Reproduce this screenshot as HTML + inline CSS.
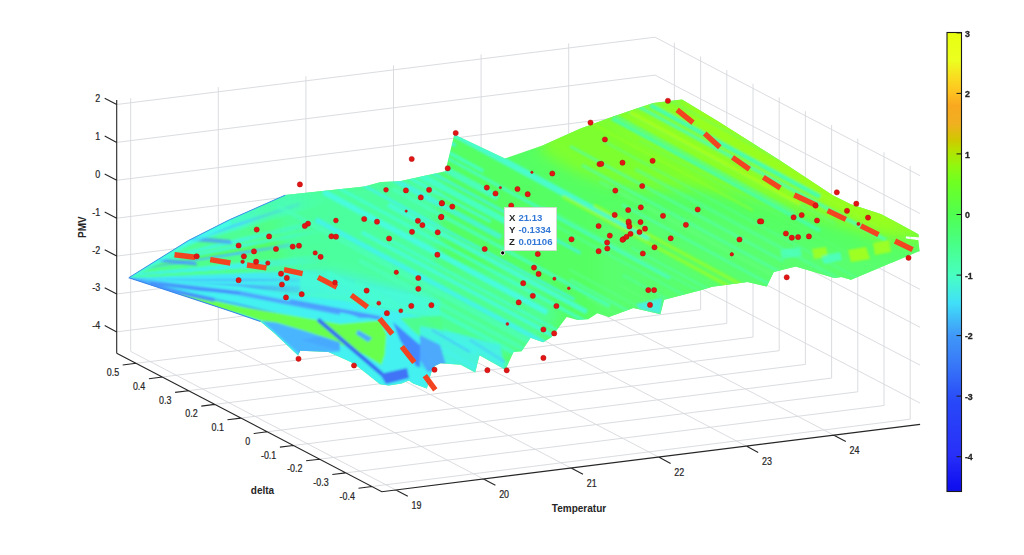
<!DOCTYPE html>
<html><head><meta charset="utf-8"><style>
html,body{margin:0;padding:0;background:#fff;width:1024px;height:555px;overflow:hidden}
svg{display:block;font-family:"Liberation Sans",sans-serif}
</style></head><body>
<svg width="1024" height="555" viewBox="0 0 1024 555">
<rect width="1024" height="555" fill="#fff"/>
<path d="M130.7,351.4 L130.7,98.2 M218.3,340.5 L218.3,87.2 M305.9,329.5 L305.9,76.3 M393.5,318.6 L393.5,65.3 M481.1,307.6 L481.1,54.4 M568.7,296.6 L568.7,43.4 M116.7,331.9 L655,264.6 M116.7,294 L655,226.7 M116.7,256.1 L655,188.8 M116.7,218.2 L655,150.9 M116.7,180.3 L655,113 M116.7,142.4 L655,75.1 M116.7,104.5 L655,37.2 M910.2,419.2 L910.2,165.9 M884,405.5 L884,152.3 M857.8,391.8 L857.8,138.6 M831.6,378.1 L831.6,124.9 M805.4,364.4 L805.4,111.2 M779.2,350.7 L779.2,97.5 M753,337.1 L753,83.8 M726.8,323.4 L726.8,70.1 M700.6,309.7 L700.6,56.4 M674.4,296 L674.4,42.7 M920.1,403.1 L655,264.6 M920.1,365.2 L655,226.7 M920.1,327.3 L655,188.8 M920.1,289.4 L655,150.9 M920.1,251.5 L655,113 M920.1,213.6 L655,75.1 M920.1,175.7 L655,37.2 M395.9,490 L130.7,351.4 M483.5,479 L218.3,340.5 M571.1,468.1 L305.9,329.5 M658.7,457.1 L393.5,318.6 M746.3,446.1 L481.1,307.6 M833.9,435.2 L568.7,296.6 M371.9,486.5 L910.2,419.2 M345.7,472.9 L884,405.5 M319.5,459.2 L857.8,391.8 M293.3,445.5 L831.6,378.1 M267.1,431.8 L805.4,364.4 M240.9,418.1 L779.2,350.7 M214.7,404.4 L753,337.1 M188.5,390.7 L726.8,323.4 M162.3,377 L700.6,309.7 M136.1,363.3 L674.4,296" stroke="#d6d8dc" stroke-width="0.9" fill="none"/>
<path d="M116.7,100 L116.7,353.2 M116.7,353.2 L381.8,491.7 L920.1,424.4 M116.7,331.9 L104.7,325.6 M116.7,294 L104.7,287.7 M116.7,256.1 L104.7,249.8 M116.7,218.2 L104.7,211.9 M116.7,180.3 L104.7,174 M116.7,142.4 L104.7,136.1 M116.7,104.5 L104.7,98.2 M371.9,486.5 L358.5,488.2 M345.7,472.9 L332.3,474.5 M319.5,459.2 L306.1,460.8 M293.3,445.5 L279.9,447.1 M267.1,431.8 L253.7,433.5 M240.9,418.1 L227.5,419.8 M214.7,404.4 L201.3,406.1 M188.5,390.7 L175.1,392.4 M162.3,377 L148.9,378.7 M136.1,363.3 L122.7,365 M395.9,490 L407.8,496.2 M483.5,479 L495.4,485.3 M571.1,468.1 L583,474.3 M658.7,457.1 L670.6,463.4 M746.3,446.1 L758.2,452.4 M833.9,435.2 L845.8,441.4" stroke="#262626" stroke-width="1.1" fill="none"/>
<g font-size="9.6" fill="#262626" stroke="#262626" stroke-width="0.2"><text transform="translate(100.3,329.3) scale(0.93,1.1)" text-anchor="end">-4</text><text transform="translate(100.3,291.4) scale(0.93,1.1)" text-anchor="end">-3</text><text transform="translate(100.3,253.5) scale(0.93,1.1)" text-anchor="end">-2</text><text transform="translate(100.3,215.6) scale(0.93,1.1)" text-anchor="end">-1</text><text transform="translate(100.3,177.7) scale(0.93,1.1)" text-anchor="end">0</text><text transform="translate(100.3,139.8) scale(0.93,1.1)" text-anchor="end">1</text><text transform="translate(100.3,101.9) scale(0.93,1.1)" text-anchor="end">2</text><text transform="translate(354.9,499.5) scale(0.93,1.1)" text-anchor="end">-0.4</text><text transform="translate(328.7,485.9) scale(0.93,1.1)" text-anchor="end">-0.3</text><text transform="translate(302.5,472.2) scale(0.93,1.1)" text-anchor="end">-0.2</text><text transform="translate(276.3,458.5) scale(0.93,1.1)" text-anchor="end">-0.1</text><text transform="translate(250.1,444.8) scale(0.93,1.1)" text-anchor="end">0</text><text transform="translate(223.9,431.1) scale(0.93,1.1)" text-anchor="end">0.1</text><text transform="translate(197.7,417.4) scale(0.93,1.1)" text-anchor="end">0.2</text><text transform="translate(171.5,403.7) scale(0.93,1.1)" text-anchor="end">0.3</text><text transform="translate(145.3,390) scale(0.93,1.1)" text-anchor="end">0.4</text><text transform="translate(119.1,376.3) scale(0.93,1.1)" text-anchor="end">0.5</text><text transform="translate(416.5,508.8) scale(0.93,1.1)" text-anchor="middle">19</text><text transform="translate(504.1,497.8) scale(0.93,1.1)" text-anchor="middle">20</text><text transform="translate(591.7,486.9) scale(0.93,1.1)" text-anchor="middle">21</text><text transform="translate(679.3,475.9) scale(0.93,1.1)" text-anchor="middle">22</text><text transform="translate(766.9,464.9) scale(0.93,1.1)" text-anchor="middle">23</text><text transform="translate(854.5,454) scale(0.93,1.1)" text-anchor="middle">24</text></g>
<g font-size="10" font-weight="bold" fill="#262626"><text x="262.5" y="493.7" text-anchor="middle">delta</text><text x="579" y="511.7" text-anchor="middle">Temperatur</text><text transform="translate(86,227.2) rotate(-90)" text-anchor="middle">PMV</text></g>
<defs><clipPath id="sc"><polygon points="128.8,277.7 188.4,240.5 229.4,219.8 285.3,195.1 364.5,186.6 380.0,182.2 399.8,181.2 445.4,171.3 454.3,134.6 504.9,158.4 542.5,145.5 580.0,128.7 609.7,117.7 653.3,102.9 682.0,99.5 718.8,121.7 780.0,160.4 833.1,195.4 850.8,204.2 881.4,214.2 918.4,234.3 918.8,237.3 906.0,236.3 905.5,238.6 918.3,240.2 919.6,251.0 851.0,279.8 841.4,277.1 834.4,278.0 795.7,266.6 773.7,271.9 766.7,286.4 747.5,282.1 712.3,286.8 700.6,290.3 664.0,299.8 660.4,314.2 633.3,307.9 609.0,316.9 597.3,313.3 588.3,319.3 577.5,320.0 566.7,316.9 551.4,337.3 543.2,342.2 530.6,337.7 521.6,351.2 513.5,352.0 505.4,369.7 479.5,355.3 475.2,372.6 460.7,364.7 440.6,363.3 434.8,366.1 431.9,370.5 429.7,377.7 426.9,388.5 413.2,383.4 408.8,380.6 401.6,383.4 388.7,385.6 380.0,384.2 354.2,363.7 347.0,360.2 328.4,352.0 300.3,350.8 298.0,355.5 274.5,333.3 260.5,321.5 230.0,311.0"/></clipPath><filter id="bl" x="-10%" y="-10%" width="120%" height="120%"><feGaussianBlur stdDeviation="7"/></filter><filter id="br" x="0" y="0" width="100%" height="100%" color-interpolation-filters="sRGB"><feColorMatrix type="matrix" values="1 0 0 0 0.01  0 1.065 0 0 0  0 0 1.05 0 0.01  0 0 0 1 0"/></filter><filter id="bl2" x="-10%" y="-10%" width="120%" height="120%"><feGaussianBlur stdDeviation="0.9"/></filter></defs>
<g filter="url(#br)"><g clip-path="url(#sc)">
<rect x="100" y="80" width="840" height="330" fill="#52f05c"/>
<g filter="url(#bl)">
<polygon points="548.0,120.0 700.0,88.0 945.0,228.0 945.0,246.0 880.0,238.0 830.0,222.0 780.0,206.0 740.0,196.0 700.0,190.0 650.0,190.0 610.0,184.0 575.0,172.0 540.0,152.0" fill="#7af02c"/>
<polygon points="610.0,112.0 700.0,94.0 800.0,158.0 920.0,228.0 905.0,240.0 800.0,206.0 700.0,166.0 640.0,140.0" fill="#8af020"/>
<polygon points="680.0,100.0 720.0,120.0 800.0,166.0 900.0,222.0 890.0,232.0 800.0,190.0 700.0,130.0" fill="#96f01a"/>
<polygon points="600.0,215.0 700.0,215.0 800.0,240.0 880.0,258.0 945.0,256.0 945.0,300.0 700.0,312.0 600.0,320.0" fill="#56f066"/>
<polygon points="400.0,260.0 520.0,272.0 560.0,310.0 545.0,345.0 500.0,360.0 420.0,350.0" fill="#4ef088"/>
<polygon points="270.0,190.0 440.0,170.0 440.0,300.0 290.0,300.0" fill="#48f094"/>
<polygon points="240.0,266.0 340.0,276.0 430.0,298.0 430.0,318.0 340.0,302.0 240.0,292.0" fill="#42e0dc"/>
</g>
<defs><linearGradient id="fm" gradientUnits="userSpaceOnUse" x1="240" y1="0" x2="330" y2="0"><stop offset="0" stop-color="#fff"/><stop offset="1" stop-color="#000"/></linearGradient><mask id="fmask" maskUnits="userSpaceOnUse" x="0" y="0" width="1024" height="555"><rect x="0" y="0" width="1024" height="555" fill="url(#fm)"/></mask></defs>
<g filter="url(#bl2)" mask="url(#fmask)">
<polygon points="70.0,280.0 340.0,152.5 340.0,214.0" fill="#44ecbc"/>
<polygon points="70.0,280.0 300.0,202.1 300.0,205.9" fill="#44c8ec"/>
<polygon points="70.0,280.0 340.0,199.0 340.0,214.0" fill="#4cf08c"/>
<polygon points="70.0,280.0 340.0,214.0 340.0,229.0" fill="#42e8d0"/>
<polygon points="70.0,280.0 340.0,220.0 340.0,224.5" fill="#4cf090"/>
<polygon points="70.0,280.0 290.0,243.3 290.0,247.0" fill="#48b4f0"/>
<polygon points="70.0,280.0 340.0,241.0 340.0,253.0" fill="#4cf084"/>
<polygon points="70.0,280.0 340.0,253.0 340.0,262.0" fill="#40e4dc"/>
<polygon points="70.0,280.0 340.0,262.0 340.0,269.5" fill="#4cf088"/>
<polygon points="70.0,280.0 340.0,269.5 340.0,310.0" fill="#40dce6"/>
<polygon points="70.0,280.0 300.0,278.7 300.0,281.3" fill="#48a8f0"/>
<polygon points="70.0,280.0 340.0,287.5 340.0,295.0" fill="#4a9cf0"/>
<polygon points="70.0,280.0 340.0,296.5 340.0,308.5" fill="#40d4ec"/>
<polygon points="70.0,280.0 340.0,308.5 340.0,316.0" fill="#4890f0"/>
<polygon points="70.0,280.0 340.0,317.5 340.0,328.0" fill="#40d8e8"/>
<polygon points="70.0,280.0 340.0,328.0 340.0,355.0" fill="#58f050"/>
</g>
<g filter="url(#bl2)">
<polyline points="381.3,94.6 648.5,238.9" fill="none" stroke="#44ecd0" stroke-width="6.5" opacity="0.85"/>
<polyline points="307.4,65.6 455.7,145.7" fill="none" stroke="#40e4e4" stroke-width="3.1" opacity="0.85"/>
<polyline points="327.1,86.9 483.4,171.3" fill="none" stroke="#42f0c4" stroke-width="3.5" opacity="0.85"/>
<polyline points="407.5,136.7 670.0,278.5" fill="none" stroke="#44ecd0" stroke-width="3.1" opacity="0.7"/>
<polyline points="336.7,110.5 497.9,197.6" fill="none" stroke="#44ecd0" stroke-width="6.7" opacity="0.7"/>
<polyline points="414.0,163.2 580.6,253.1" fill="none" stroke="#40e4e4" stroke-width="3.1" opacity="0.7"/>
<polyline points="371.7,148.9 544.4,242.2" fill="none" stroke="#42f0c4" stroke-width="6.5" opacity="0.85"/>
<polyline points="324.2,131.8 490.7,221.8" fill="none" stroke="#44ecd0" stroke-width="3.0" opacity="0.85"/>
<polyline points="360.5,161.5 501.0,237.4" fill="none" stroke="#40e4e4" stroke-width="5.4" opacity="0.7"/>
<polyline points="392.8,189.0 609.7,306.1" fill="none" stroke="#48f0b0" stroke-width="3.8" opacity="0.85"/>
<polyline points="278.6,139.6 574.6,299.5" fill="none" stroke="#40e4e4" stroke-width="2.5" opacity="0.85"/>
<polyline points="388.2,204.7 586.8,312.0" fill="none" stroke="#44ecd0" stroke-width="4.9" opacity="0.85"/>
<polyline points="297.1,165.7 590.0,323.9" fill="none" stroke="#42f0c4" stroke-width="3.3" opacity="0.85"/>
<polyline points="323.2,191.6 547.2,312.5" fill="none" stroke="#44ecd0" stroke-width="5.8"/>
<polyline points="389.6,239.9 667.1,389.7" fill="none" stroke="#44ecd0" stroke-width="2.6" opacity="0.7"/>
<polyline points="361.6,232.3 648.5,387.2" fill="none" stroke="#44ecd0" stroke-width="3.9" opacity="0.85"/>
<polyline points="315.9,219.7 583.7,364.3" fill="none" stroke="#40e4e4" stroke-width="5.2" opacity="0.85"/>
<polyline points="277.3,205.7 575.2,366.6" fill="none" stroke="#48f0b0" stroke-width="4.7" opacity="0.7"/>
<polyline points="359.1,260.3 631.3,407.3" fill="none" stroke="#48f0b0" stroke-width="4.4" opacity="0.7"/>
<polyline points="407.4,295.3 552.6,373.8" fill="none" stroke="#42f0c4" stroke-width="4.6" opacity="0.7"/>
<polyline points="354.6,282.4 515.9,369.4" fill="none" stroke="#48f0b0" stroke-width="6.3" opacity="0.7"/>
<polyline points="325.9,272.0 475.4,352.7" fill="none" stroke="#42f0c4" stroke-width="4.3" opacity="0.85"/>
<polyline points="363.1,306.6 530.1,396.8" fill="none" stroke="#48f0b0" stroke-width="4.7"/>
<polyline points="341.9,304.0 528.4,404.7" fill="none" stroke="#42f0c4" stroke-width="4.2" opacity="0.7"/>
<polyline points="418.3,353.1 711.8,511.6" fill="none" stroke="#48f0b0" stroke-width="5.2" opacity="0.85"/>
<polyline points="343.8,321.7 566.2,441.8" fill="none" stroke="#40e4e4" stroke-width="4.8" opacity="0.7"/>
<polyline points="386.2,358.3 637.4,493.9" fill="none" stroke="#40e4e4" stroke-width="5.3" opacity="0.85"/>
<polyline points="370.2,358.3 643.9,506.1" fill="none" stroke="#40e4e4" stroke-width="3.6" opacity="0.85"/>
<polyline points="357.1,361.7 499.0,438.3" fill="none" stroke="#40e4e4" stroke-width="4.8" opacity="0.85"/>
<polyline points="339.4,362.3 610.1,508.5" fill="none" stroke="#40e4e4" stroke-width="5.2" opacity="0.85"/>
<polyline points="574.6,36.9 903.3,214.4" fill="none" stroke="#5cf070" stroke-width="2.5" opacity="0.9"/>
<polyline points="576.4,50.0 796.6,168.9" fill="none" stroke="#5cf070" stroke-width="1.8" opacity="0.5"/>
<polyline points="633.7,94.2 879.6,227.0" fill="none" stroke="#98f020" stroke-width="3.2" opacity="0.5"/>
<polyline points="633.6,103.9 886.6,240.5" fill="none" stroke="#50f0a0" stroke-width="3.8" opacity="0.9"/>
<polyline points="626.7,110.7 835.4,223.5" fill="none" stroke="#5cf070" stroke-width="4.0" opacity="0.5"/>
<polyline points="602.4,108.8 794.9,212.8" fill="none" stroke="#5cf070" stroke-width="3.4" opacity="0.9"/>
<polyline points="638.6,140.2 975.0,321.8" fill="none" stroke="#5cf070" stroke-width="1.8" opacity="0.5"/>
<polyline points="558.2,105.3 753.0,210.5" fill="none" stroke="#98f020" stroke-width="1.5" opacity="0.7"/>
<polyline points="601.2,139.9 867.4,283.7" fill="none" stroke="#50f0a0" stroke-width="2.0" opacity="0.5"/>
<polyline points="635.2,169.1 949.3,338.7" fill="none" stroke="#50f0a0" stroke-width="3.7" opacity="0.5"/>
<polyline points="570.1,146.2 783.3,261.3" fill="none" stroke="#50f0a0" stroke-width="2.7" opacity="0.7"/>
<polyline points="581.9,165.1 888.2,330.6" fill="none" stroke="#50f0a0" stroke-width="3.1" opacity="0.7"/>
<polyline points="599.6,181.6 861.1,322.8" fill="none" stroke="#5cf070" stroke-width="3.9" opacity="0.9"/>
<polyline points="622.1,204.5 901.2,355.2" fill="none" stroke="#50f0a0" stroke-width="2.4" opacity="0.9"/>
<polyline points="593.9,205.2 812.5,323.3" fill="none" stroke="#98f020" stroke-width="3.7" opacity="0.7"/>
<polyline points="562.6,196.4 775.1,311.1" fill="none" stroke="#98f020" stroke-width="3.9" opacity="0.7"/>
<polyline points="631.4,247.7 898.6,392.0" fill="none" stroke="#50f0a0" stroke-width="2.1" opacity="0.7"/>
<polyline points="542.0,206.2 872.1,384.4" fill="none" stroke="#50f0a0" stroke-width="2.2" opacity="0.5"/>
<polyline points="552.2,224.0 824.1,370.9" fill="none" stroke="#50f0a0" stroke-width="2.6" opacity="0.5"/>
<polyline points="622.7,274.9 785.1,362.6" fill="none" stroke="#50f0a0" stroke-width="2.8" opacity="0.5"/>
<polyline points="618.2,284.4 822.4,394.7" fill="none" stroke="#5cf070" stroke-width="2.1" opacity="0.9"/>
<polyline points="569.3,269.4 838.8,414.9" fill="none" stroke="#58f08c" stroke-width="2.6" opacity="0.5"/>
<polyline points="570.1,279.4 826.1,417.7" fill="none" stroke="#50f0a0" stroke-width="2.3" opacity="0.9"/>
<polyline points="586.4,297.9 811.4,419.3" fill="none" stroke="#5cf070" stroke-width="3.3" opacity="0.5"/>
<polyline points="595.3,310.5 878.8,463.5" fill="none" stroke="#5cf070" stroke-width="1.7" opacity="0.5"/>
<polyline points="620.8,337.8 887.8,482.0" fill="none" stroke="#98f020" stroke-width="3.2" opacity="0.7"/>
<polyline points="650.0,105.0 820.0,196.8" fill="none" stroke="#44f0a0" stroke-width="4.8"/>
<polyline points="612.0,118.5 820.0,230.8" fill="none" stroke="#44f0a0" stroke-width="4.0" opacity="0.9"/>
<polyline points="630.0,112.2 800.0,204.0" fill="none" stroke="#a4f018" stroke-width="3.2"/>
</g>
<g filter="url(#bl2)">
<polygon points="128.8,277.7 240.0,286.0 300.0,296.0 340.0,300.0 420.0,316.0 440.0,330.0 440.0,395.0 128.8,395.0" fill="#40e2e2"/>
<polygon points="300.0,270.0 340.0,280.0 440.0,300.0 440.0,318.0 340.0,300.0 300.0,296.0" fill="#44ecc8" opacity="0.8"/>
<polygon points="128.8,277.7 240.0,291.0 340.0,311.0 340.0,315.0 240.0,295.5 128.8,279.2" fill="#4c9cf0"/>
<polygon points="290.0,299.0 380.0,316.0 380.0,320.0 290.0,303.0" fill="#4a94f0"/>
<polygon points="150.0,285.5 240.0,304.0 300.0,318.5 300.0,320.3 240.0,305.6 150.0,287.0" fill="#4488f0"/>
<polygon points="180.0,293.0 240.0,306.6 340.0,324.0 380.0,320.5 386.5,334.2 384.8,354.8 381.4,365.0 364.2,354.8 347.0,346.2 330.0,342.8 240.0,314.0 180.0,300.0" fill="#66f046"/>
<polygon points="262.0,321.0 300.5,355.6 340.0,351.3 340.0,342.6 304.8,331.1 276.0,322.5" fill="#46aaf2"/>
<polygon points="300.0,340.0 340.0,351.3 340.0,342.6 320.0,336.0" fill="#44a0f2"/>
<polygon points="128.8,277.7 170.0,288.0 215.0,298.0 214.0,302.0 170.0,292.5 135.0,281.0" fill="#4684f0" opacity="0.9"/>
<polygon points="150.0,282.0 200.0,288.0 240.0,292.0 240.0,294.0 200.0,291.0 150.0,284.5" fill="#3f7cee" opacity="0.8"/>
<polygon points="190.0,236.0 230.0,240.0 232.0,244.0 192.0,241.0" fill="#4a90f0" opacity="0.8"/>
<polygon points="158.0,258.5 196.0,262.0 197.0,265.5 160.0,262.0" fill="#4890f0" opacity="0.9"/>
<polygon points="128.8,277.7 188.4,240.5 229.4,219.8 232.0,224.0 190.0,245.0 140.0,274.0" fill="#40eee2" opacity="0.7"/>
<polygon points="358.0,330.0 372.0,338.0 368.0,342.0 356.0,334.0" fill="#4aa0f0"/>
<polyline points="318.0,319.6 386.5,378.0" fill="none" stroke="#3464e4" stroke-width="4.0"/>
<polygon points="380.0,374.0 407.0,368.0 409.0,378.0 386.0,384.0" fill="#3c6ce8"/>
<polygon points="400.0,318.0 440.0,316.0 446.0,338.0 428.0,344.0 412.0,330.0" fill="#4ef07c" opacity="0.9"/>
<polygon points="393.0,322.0 420.0,345.0 432.0,372.0 416.0,366.0 400.0,340.0" fill="#4080f0"/>
<polygon points="345.0,312.0 365.0,314.0 385.0,318.0 360.0,318.0" fill="#4890f0" opacity="0.9"/>
<polygon points="420.0,326.0 460.0,334.0 500.0,345.0 506.0,372.0 480.0,356.0 476.0,374.0 460.0,366.0 440.0,364.0 420.0,372.0" fill="#42e2e0" opacity="0.85"/>
<polygon points="420.0,335.0 440.0,345.0 446.0,365.0 428.0,372.0 420.0,360.0" fill="#4a98f0" opacity="0.9"/>
<polyline points="432.0,330.0 470.0,352.0" fill="none" stroke="#48b0f0" stroke-width="2.0" opacity="0.8"/>
<polyline points="470.0,340.0 505.0,362.0" fill="none" stroke="#48b8f0" stroke-width="2.0" opacity="0.8"/>
<polygon points="636.0,304.0 662.0,298.0 660.5,314.0 640.0,309.0" fill="#44dce8" opacity="0.8"/>
<polygon points="848.0,250.0 866.0,247.0 870.0,259.0 851.0,262.0" fill="#a4f018" opacity="0.9"/>
<polygon points="873.0,243.0 889.0,240.0 891.0,252.0 875.0,255.0" fill="#a0f01c" opacity="0.9"/>
<polygon points="812.0,249.0 826.0,247.0 828.0,257.0 814.0,259.0" fill="#9cf020" opacity="0.9"/>
<polygon points="822.0,256.0 840.0,252.0 842.0,260.0 824.0,264.0" fill="#48f0c0" opacity="0.8"/>
<polygon points="780.0,250.0 800.0,247.0 802.0,256.0 782.0,259.0" fill="#48f0c0" opacity="0.7"/>
</g>
</g></g>
<polyline points="128.8,277.7 188.4,240.5 229.4,219.8 285.3,195.1" fill="none" stroke="#3c90f0" stroke-width="1"/>
<polyline points="128.8,277.7 230,311 260.5,321.5" fill="none" stroke="#3c86ee" stroke-width="1.1"/>
<path d="M174.5,254.8 L195.2,257.2 M210.2,259.6 L230.4,263.0 M247.0,265.0 L266.5,267.8 M284.0,269.6 L302.6,273.6 M318.0,277.3 L336.8,287.0 M351.3,295.1 L367.5,307.2 M379.6,318.6 L392.3,334.0 M401.8,346.6 L414.3,362.4 M424.8,375.6 L435.3,389.8 M677.1,109.8 L693.0,122.7 M704.7,133.6 L719.8,147.3 M732.5,157.4 L749.4,169.2 M763.3,177.2 L780.3,188.0 M794.3,195.0 L816.7,205.5 M827.6,210.6 L845.8,219.4 M860.9,225.8 L878.5,234.6 M895.0,241.0 L912.6,249.7" stroke="#f24420" stroke-width="5.4" fill="none"/>
<g fill="#e41414" stroke="#b01010" stroke-width="0.5"><circle cx="256.7" cy="229.6" r="2.6"/><circle cx="269.1" cy="236.4" r="2.6"/><circle cx="238.6" cy="245.5" r="2.6"/><circle cx="254.0" cy="251.4" r="2.6"/><circle cx="276.0" cy="249.0" r="2.6"/><circle cx="196.7" cy="256.3" r="2.6"/><circle cx="243.9" cy="256.3" r="2.6"/><circle cx="242.6" cy="261.7" r="1.8"/><circle cx="256.1" cy="261.7" r="2.6"/><circle cx="267.8" cy="263.1" r="2.2"/><circle cx="238.6" cy="280.2" r="2.6"/><circle cx="281.0" cy="273.7" r="2.6"/><circle cx="286.8" cy="277.9" r="2.6"/><circle cx="281.9" cy="284.5" r="2.6"/><circle cx="286.0" cy="297.4" r="2.6"/><circle cx="299.9" cy="184.4" r="2.6"/><circle cx="386.0" cy="189.8" r="2.4"/><circle cx="405.9" cy="190.4" r="2.6"/><circle cx="429.1" cy="189.8" r="2.6"/><circle cx="420.8" cy="197.4" r="2.6"/><circle cx="441.9" cy="203.3" r="2.6"/><circle cx="406.2" cy="211.1" r="1.2"/><circle cx="441.0" cy="217.2" r="2.6"/><circle cx="364.2" cy="219.0" r="2.6"/><circle cx="377.0" cy="221.7" r="2.6"/><circle cx="335.9" cy="220.5" r="2.4"/><circle cx="308.0" cy="223.7" r="2.6"/><circle cx="304.8" cy="225.9" r="2.6"/><circle cx="417.9" cy="220.8" r="2.6"/><circle cx="422.4" cy="225.1" r="2.6"/><circle cx="412.0" cy="231.8" r="2.6"/><circle cx="437.7" cy="232.3" r="2.6"/><circle cx="331.4" cy="236.3" r="2.6"/><circle cx="336.0" cy="236.7" r="2.6"/><circle cx="389.1" cy="238.5" r="2.6"/><circle cx="292.7" cy="246.6" r="2.6"/><circle cx="299.0" cy="245.7" r="2.6"/><circle cx="315.2" cy="252.9" r="2.2"/><circle cx="320.6" cy="256.8" r="2.6"/><circle cx="437.4" cy="254.7" r="2.6"/><circle cx="335.0" cy="282.5" r="2.4"/><circle cx="301.7" cy="294.2" r="2.6"/><circle cx="366.6" cy="290.6" r="2.6"/><circle cx="396.3" cy="272.3" r="2.2"/><circle cx="418.3" cy="278.0" r="2.6"/><circle cx="418.3" cy="288.8" r="2.6"/><circle cx="378.8" cy="303.2" r="2.0"/><circle cx="411.3" cy="305.9" r="2.6"/><circle cx="431.4" cy="305.2" r="2.6"/><circle cx="386.9" cy="313.2" r="2.6"/><circle cx="400.8" cy="310.8" r="2.0"/><circle cx="298.5" cy="358.8" r="2.6"/><circle cx="354.0" cy="365.5" r="2.6"/><circle cx="434.5" cy="369.7" r="2.6"/><circle cx="487.4" cy="370.2" r="2.6"/><circle cx="506.7" cy="370.3" r="2.6"/><circle cx="411.7" cy="159.0" r="2.6"/><circle cx="455.7" cy="133.0" r="2.6"/><circle cx="447.7" cy="168.3" r="2.6"/><circle cx="552.3" cy="173.5" r="2.6"/><circle cx="531.9" cy="172.3" r="1.2"/><circle cx="599.5" cy="164.1" r="2.6"/><circle cx="486.8" cy="187.6" r="2.6"/><circle cx="500.4" cy="187.6" r="1.2"/><circle cx="517.5" cy="189.0" r="2.6"/><circle cx="495.5" cy="193.5" r="2.6"/><circle cx="527.7" cy="194.2" r="2.6"/><circle cx="441.8" cy="203.2" r="2.6"/><circle cx="452.3" cy="206.6" r="2.6"/><circle cx="511.2" cy="205.5" r="2.6"/><circle cx="441.4" cy="216.8" r="2.6"/><circle cx="484.7" cy="249.0" r="2.6"/><circle cx="571.5" cy="239.3" r="2.6"/><circle cx="537.8" cy="254.0" r="2.6"/><circle cx="534.0" cy="267.6" r="2.6"/><circle cx="538.6" cy="273.9" r="2.6"/><circle cx="523.2" cy="283.2" r="2.6"/><circle cx="554.4" cy="278.7" r="1.6"/><circle cx="568.8" cy="288.3" r="1.4"/><circle cx="532.8" cy="295.8" r="2.6"/><circle cx="518.7" cy="302.4" r="2.6"/><circle cx="556.4" cy="306.0" r="2.6"/><circle cx="543.4" cy="329.5" r="2.6"/><circle cx="554.2" cy="333.4" r="2.6"/><circle cx="543.4" cy="357.9" r="2.6"/><circle cx="507.4" cy="324.0" r="1.4"/><circle cx="590.5" cy="122.6" r="2.6"/><circle cx="667.9" cy="100.8" r="2.6"/><circle cx="604.9" cy="139.5" r="2.6"/><circle cx="601.3" cy="163.8" r="2.6"/><circle cx="622.5" cy="162.7" r="2.6"/><circle cx="652.6" cy="160.8" r="2.6"/><circle cx="642.2" cy="186.0" r="2.6"/><circle cx="615.3" cy="190.6" r="2.6"/><circle cx="628.2" cy="210.0" r="2.6"/><circle cx="640.8" cy="207.3" r="2.6"/><circle cx="614.7" cy="214.9" r="2.6"/><circle cx="663.0" cy="215.8" r="2.6"/><circle cx="697.7" cy="209.5" r="2.6"/><circle cx="598.6" cy="226.0" r="2.6"/><circle cx="628.7" cy="223.0" r="2.6"/><circle cx="640.5" cy="222.1" r="2.6"/><circle cx="645.0" cy="228.7" r="2.6"/><circle cx="639.5" cy="232.0" r="2.6"/><circle cx="685.9" cy="224.8" r="2.6"/><circle cx="609.8" cy="235.6" r="2.6"/><circle cx="623.3" cy="239.2" r="2.6"/><circle cx="670.7" cy="238.3" r="2.6"/><circle cx="739.5" cy="239.5" r="2.6"/><circle cx="654.5" cy="247.3" r="2.6"/><circle cx="598.6" cy="251.2" r="2.6"/><circle cx="642.8" cy="253.5" r="2.6"/><circle cx="731.8" cy="254.4" r="1.6"/><circle cx="650.0" cy="304.9" r="2.6"/><circle cx="759.9" cy="221.4" r="2.6"/><circle cx="731.8" cy="254.2" r="1.6"/><circle cx="836.8" cy="192.3" r="2.6"/><circle cx="856.3" cy="203.7" r="2.6"/><circle cx="847.0" cy="210.8" r="2.6"/><circle cx="815.6" cy="205.6" r="2.6"/><circle cx="793.6" cy="217.3" r="2.6"/><circle cx="801.7" cy="215.1" r="2.6"/><circle cx="817.0" cy="220.5" r="2.6"/><circle cx="868.0" cy="217.6" r="2.6"/><circle cx="858.4" cy="223.9" r="1.6"/><circle cx="761.3" cy="221.4" r="2.6"/><circle cx="785.9" cy="233.5" r="2.6"/><circle cx="791.8" cy="237.7" r="2.6"/><circle cx="798.1" cy="237.1" r="2.6"/><circle cx="808.9" cy="236.4" r="2.6"/><circle cx="908.5" cy="257.8" r="2.6"/><circle cx="786.7" cy="277.3" r="2.6"/><circle cx="622.5" cy="239.8" r="2.6"/><circle cx="626.5" cy="236.8" r="2.6"/><circle cx="630.5" cy="233.8" r="2.6"/><circle cx="628.6" cy="221.5" r="2.6"/><circle cx="629.4" cy="226.4" r="2.6"/><circle cx="607.1" cy="242.5" r="2.6"/><circle cx="607.3" cy="248.5" r="2.6"/><circle cx="648.3" cy="290.1" r="2.6"/><circle cx="654.1" cy="290.1" r="2.6"/></g>
<rect x="504.5" y="207.5" width="52" height="43" fill="#fff" stroke="#d8d8d8" stroke-width="0.8"/>
<g font-size="9.6" font-weight="bold"><text x="509" y="220.9" fill="#262626">X</text><text x="509" y="233.1" fill="#262626">Y</text><text x="509" y="245.3" fill="#262626">Z</text><text x="518.4" y="220.9" fill="#3378d6">21.13</text><text x="518.4" y="233.1" fill="#3378d6">-0.1334</text><text x="518.4" y="245.3" fill="#3378d6">0.01106</text></g>
<circle cx="502.7" cy="252.9" r="2.1" fill="#000" stroke="#fff" stroke-width="0.9"/>
<defs><linearGradient id="cb" x1="0" y1="0" x2="0" y2="1"><stop offset="0.0013" stop-color="#e8ff10"/><stop offset="0.0606" stop-color="#ecff20"/><stop offset="0.0935" stop-color="#f8e020"/><stop offset="0.1330" stop-color="#ffc020"/><stop offset="0.1594" stop-color="#f8a820"/><stop offset="0.1989" stop-color="#f0b020"/><stop offset="0.2344" stop-color="#d0c800"/><stop offset="0.2555" stop-color="#b8e000"/><stop offset="0.2911" stop-color="#90f810"/><stop offset="0.3240" stop-color="#70ff20"/><stop offset="0.3964" stop-color="#50ff50"/><stop offset="0.4623" stop-color="#48ff88"/><stop offset="0.5281" stop-color="#48ffc0"/><stop offset="0.5887" stop-color="#40e0f8"/><stop offset="0.6598" stop-color="#4098f8"/><stop offset="0.7230" stop-color="#3878f8"/><stop offset="0.8047" stop-color="#2848f8"/><stop offset="0.9193" stop-color="#2830f8"/><stop offset="0.9878" stop-color="#1010f0"/><stop offset="0.9996" stop-color="#1010e8"/></linearGradient></defs>
<rect x="947" y="32.5" width="14.5" height="459" fill="url(#cb)" stroke="#1a1a1a" stroke-width="1.1"/>
<path d="M956.5,32.9 L961.5,32.9 M956.5,93.4 L961.5,93.4 M956.5,153.9 L961.5,153.9 M956.5,214.5 L961.5,214.5 M956.5,275.1 L961.5,275.1 M956.5,335.6 L961.5,335.6 M956.5,396.1 L961.5,396.1 M956.5,456.7 L961.5,456.7" stroke="#1a1a1a" stroke-width="1"/>
<g font-size="8.8" font-weight="bold" fill="#262626" stroke="#262626" stroke-width="0.3"><text x="964.9" y="36.6">3</text><text x="964.9" y="97.1">2</text><text x="964.9" y="157.6">1</text><text x="964.9" y="218.2">0</text><text x="964.9" y="278.8">-1</text><text x="964.9" y="339.3">-2</text><text x="964.9" y="399.8">-3</text><text x="964.9" y="460.4">-4</text></g>
</svg>
</body></html>
